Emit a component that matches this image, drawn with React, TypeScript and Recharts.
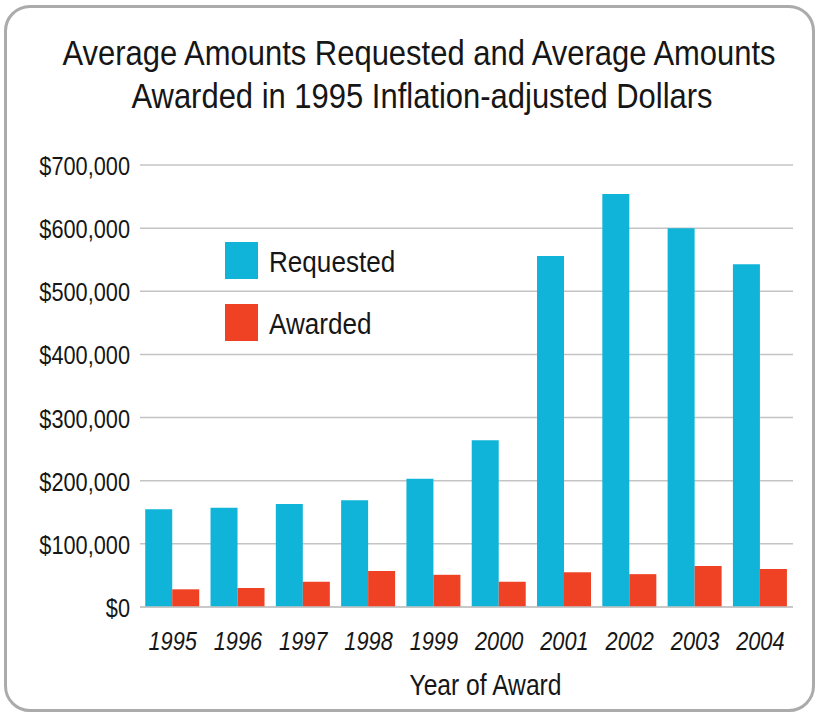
import React from "react";
import { BarChart, Bar, XAxis, YAxis, CartesianGrid, Legend, Label } from "recharts";

const years = ["1995", "1996", "1997", "1998", "1999", "2000", "2001", "2002", "2003", "2004"];
const requested = [155000, 157000, 163000, 169000, 203000, 264000, 556000, 654000, 600000, 543000];
const awarded = [28000, 30000, 40000, 57000, 51000, 40000, 55000, 52000, 65000, 60000];
const yTicks = [0, 100000, 200000, 300000, 400000, 500000, 600000, 700000];
const seriesNames = ["Requested", "Awarded"];
const titleLines = ["Average Amounts Requested and Average Amounts", "Awarded in 1995 Inflation-adjusted Dollars"];
const xAxisTitle = "Year of Award";

const BLUE = "#10b4d8";
const RED = "#ef4123";
const FONT = "'Liberation Sans', Arial, Helvetica, sans-serif";
const SX = 0.87;
const INK = "#161616";

const data = years.map((y, i) => ({ year: y, Requested: requested[i], Awarded: awarded[i] }));

const fmt = (v: number) => "$" + v.toLocaleString("en-US");

const YTick = (props: any) => {
  const { x, y, payload } = props;
  return (
    <g transform={`translate(${x},${y}) scale(${SX},1)`}>
      <text x={0} y={0} dy={10} textAnchor="end" fontSize={25} fontFamily={FONT} fill={INK}>
        {fmt(payload.value)}
      </text>
    </g>
  );
};

const XTick = (props: any) => {
  const { x, y, payload } = props;
  return (
    <g transform={`translate(${x},${y}) scale(${SX},1)`}>
      <text x={0} y={43} textAnchor="middle" fontSize={25} fontStyle="italic" fontFamily={FONT} fill={INK}>
        {payload.value}
      </text>
    </g>
  );
};

const LegendContent = (props: any) => {
  const payload = props.payload || [];
  const ordered = seriesNames
    .map((n) => payload.find((p: any) => p.value === n || p.dataKey === n))
    .filter(Boolean);
  return (
    <svg width={220} height={110} style={{ display: "block" }}>
      {ordered.map((p: any, i: number) => (
        <g key={p.value} transform={`translate(0,${i * 62})`}>
          <rect x={0} y={0} width={33} height={37} fill={p.color} />
          <g transform={`translate(44,30) scale(${SX},1)`}>
            <text x={0} y={0} fontSize={30} fontFamily={FONT} fill={INK}>
              {p.value}
            </text>
          </g>
        </g>
      ))}
    </svg>
  );
};

const AxisTitle = (props: any) => {
  const vb = props.viewBox || {};
  const cx = vb.x + vb.width / 2 + 19;
  return (
    <g transform={`translate(${cx},695) scale(0.85,1)`}>
      <text x={0} y={0} textAnchor="middle" fontSize={29} fontFamily={FONT} fill={INK}>
        {xAxisTitle}
      </text>
    </g>
  );
};

export default function App() {
  return (
    <div style={{ position: "absolute", left: 0, top: 0, width: 820, height: 714, background: "#fff", overflow: "hidden" }}>
      <div
        style={{
          position: "absolute",
          left: 4,
          top: 5,
          width: 805,
          height: 701,
          border: "3px solid #ababab",
          borderRadius: 26,
        }}
      />
      <svg width={820} height={130} style={{ position: "absolute", left: 0, top: 0 }}>
        <g transform={`translate(419,65) scale(0.885,1)`}>
          <text x={0} y={0} textAnchor="middle" fontSize={35} fontFamily={FONT} fill={INK}>
            {titleLines[0]}
          </text>
        </g>
        <g transform={`translate(422,108) scale(0.885,1)`}>
          <text x={0} y={0} textAnchor="middle" fontSize={35} fontFamily={FONT} fill={INK}>
            {titleLines[1]}
          </text>
        </g>
      </svg>
      <div style={{ position: "absolute", left: 0, top: 0 }}>
        <BarChart
          width={820}
          height={714}
          data={data}
          margin={{ top: 165, right: 27, bottom: 47, left: 0 }}
          barCategoryGap="8%"
          barGap={0}
        >
          <CartesianGrid vertical={false} stroke="#c4c4c4" strokeWidth={1.5} />
          <XAxis
            dataKey="year"
            height={60}
            axisLine={{ stroke: "#c4c4c4", strokeWidth: 1.5 }}
            tickLine={false}
            tickSize={0}
            tickMargin={0}
            tick={<XTick />}
            interval={0}
          >
            <Label content={<AxisTitle />} />
          </XAxis>
          <YAxis
            width={140}
            domain={[0, 700000]}
            ticks={yTicks}
            axisLine={false}
            tickLine={false}
            tickSize={0}
            tickMargin={10}
            tick={<YTick />}
            interval={0}
          />
          <Legend
            layout="vertical"
            align="center"
            verticalAlign="middle"
            content={<LegendContent />}
            wrapperStyle={{ left: 225, top: 242, width: 220, height: 110 }}
          />
          <Bar dataKey="Requested" fill={BLUE} isAnimationActive={false} />
          <Bar dataKey="Awarded" fill={RED} isAnimationActive={false} />
        </BarChart>
      </div>
    </div>
  );
}
